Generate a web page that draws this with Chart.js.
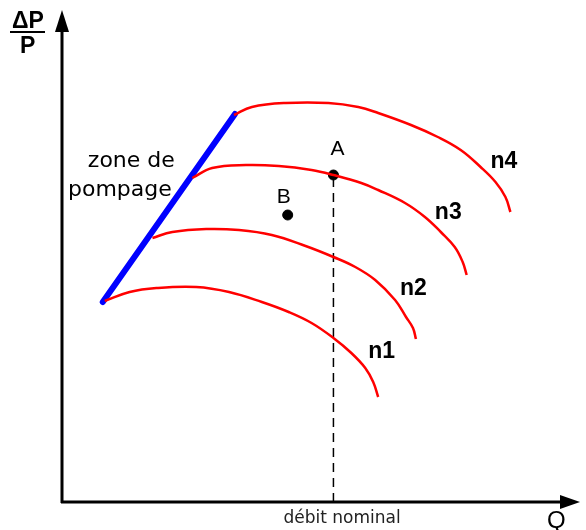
<!DOCTYPE html>
<html>
<head>
<meta charset="utf-8">
<script src="https://cdn.jsdelivr.net/npm/chart.js@4/dist/chart.umd.min.js"></script>
<style>
  html, body { margin: 0; background: #fff; overflow: hidden; }
  canvas { display: block; }
</style>
</head>
<body>
<canvas id="map" width="586" height="530"></canvas>
<script>
// speed lines of the compressor map (Q, dP/P) in arbitrary units
var n1 = [[42, 201], [67, 210], [94, 214], [134, 215], [167, 210], [200, 200], [227, 190], [250, 179], [272, 164], [290, 149], [304, 134], [312, 120], [317, 105]];
var n2 = [[90, 264], [110, 270], [144, 273], [177, 272], [210, 267], [244, 256], [272, 245], [294, 235], [314, 222], [334, 202], [345, 185], [352, 174], [355, 163]];
var n3 = [[130, 324], [150, 334], [184, 337], [217, 336], [250, 332], [272, 327], [300, 319], [317, 312], [344, 299], [364, 285], [380, 270], [394, 255], [402, 240], [406, 227]];
var n4 = [[172, 387], [190, 395], [224, 399], [267, 399], [297, 395], [317, 389], [350, 377], [377, 365], [400, 352], [420, 335], [435, 320], [445, 305], [450, 290]];
var surge = [[40, 200], [173, 388]];
var nominalQ = 272;
var pointA = [272, 327];
var pointB = [226, 287];

// text notes: [text, Q, dP/P]
var notes = [
  ['zone de', 25, 335],
  ['pompage', 5, 306],
  ['A', 269, 347],
  ['B', 215, 299],
  ['n4', 430, 334],
  ['n3', 374, 283],
  ['n2', 339, 207],
  ['n1', 307, 144]
];

function pts(arr) {
  return arr.map(function (p) { return { x: p[0], y: p[1] }; });
}

function curve(arr) {
  return {
    data: pts(arr),
    borderColor: '#ff0000',
    borderWidth: 2.5,
    pointRadius: 0,
    tension: 0.4,
    showLine: true
  };
}

var decor = {
  id: 'decor',
  beforeDatasetsDraw: function (chart) {
    var ctx = chart.ctx;
    var xs = chart.scales.x, ys = chart.scales.y;
    var x0 = xs.getPixelForValue(0) - 1;
    var y0 = ys.getPixelForValue(0);
    var ca = chart.chartArea;
    ctx.save();
    ctx.strokeStyle = '#000';
    ctx.fillStyle = '#000';
    ctx.lineWidth = 3;
    // y axis
    ctx.beginPath();
    ctx.moveTo(x0, y0 + 1);
    ctx.lineTo(x0, ca.top + 18);
    ctx.stroke();
    ctx.beginPath();
    ctx.moveTo(x0, ca.top);
    ctx.lineTo(x0 - 7, ca.top + 22);
    ctx.lineTo(x0 + 7, ca.top + 22);
    ctx.closePath();
    ctx.fill();
    // x axis
    ctx.beginPath();
    ctx.moveTo(x0 - 1, y0);
    ctx.lineTo(ca.right - 16, y0);
    ctx.stroke();
    ctx.beginPath();
    ctx.moveTo(ca.right, y0);
    ctx.lineTo(ca.right - 20, y0 - 7);
    ctx.lineTo(ca.right - 20, y0 + 7);
    ctx.closePath();
    ctx.fill();
    ctx.restore();
  },
  afterDatasetsDraw: function (chart) {
    var ctx = chart.ctx;
    var xs = chart.scales.x, ys = chart.scales.y;
    var ca = chart.chartArea;
    ctx.save();
    ctx.fillStyle = '#000';
    ctx.textAlign = 'left';
    ctx.textBaseline = 'alphabetic';
    notes.forEach(function (n) {
      var t = n[0];
      if (t.charAt(0) === 'n') ctx.font = 'bold 23px "Liberation Sans", Arial, sans-serif';
      else if (t.length === 1) ctx.font = '21px "Liberation Sans", Arial, sans-serif';
      else ctx.font = '22px "DejaVu Sans", sans-serif';
      ctx.fillText(t, xs.getPixelForValue(n[1]), ys.getPixelForValue(n[2]));
    });
    // axis titles
    ctx.font = '17px "DejaVu Sans", sans-serif';
    ctx.fillStyle = '#222';
    ctx.fillText('débit nominal', xs.getPixelForValue(nominalQ) - 50, ca.bottom + 21);
    ctx.fillStyle = '#000';
    ctx.font = '24px "Liberation Sans", Arial, sans-serif';
    ctx.fillText('Q', ca.right - 33, ca.bottom + 26);
    ctx.font = 'bold 23px "Liberation Sans", Arial, sans-serif';
    ctx.fillText('\u0394P', 12, 28);
    ctx.fillText('P', 20, 53);
    ctx.lineWidth = 2;
    ctx.beginPath();
    ctx.moveTo(10, 32);
    ctx.lineTo(45, 32);
    ctx.stroke();
    ctx.restore();
  }
};

var map = document.getElementById('map').getContext('2d');
var chart = new Chart(map, {
  type: 'scatter',
  data: {
    datasets: [
      curve(n1),
      curve(n2),
      curve(n3),
      curve(n4),
      {
        data: pts(surge),
        borderColor: '#0000ff',
        borderWidth: 6,
        borderCapStyle: 'round',
        pointRadius: 0,
        showLine: true
      },
      {
        data: pts([[nominalQ, 0], pointA]),
        borderColor: '#000',
        borderWidth: 1.5,
        borderDash: [9, 6],
        pointRadius: 0,
        showLine: true
      },
      {
        data: pts([pointA, pointB]),
        backgroundColor: '#000',
        borderColor: '#000',
        pointRadius: 5,
        showLine: false
      }
    ]
  },
  options: {
    responsive: false,
    animation: false,
    layout: { padding: { left: 63, right: 3, top: 10, bottom: 28 } },
    scales: {
      x: { type: 'linear', min: 0, max: 520, display: false },
      y: { type: 'linear', min: 0, max: 492, display: false }
    },
    plugins: {
      legend: { display: false },
      tooltip: { enabled: false }
    }
  },
  plugins: [decor]
});
</script>
</body>
</html>
